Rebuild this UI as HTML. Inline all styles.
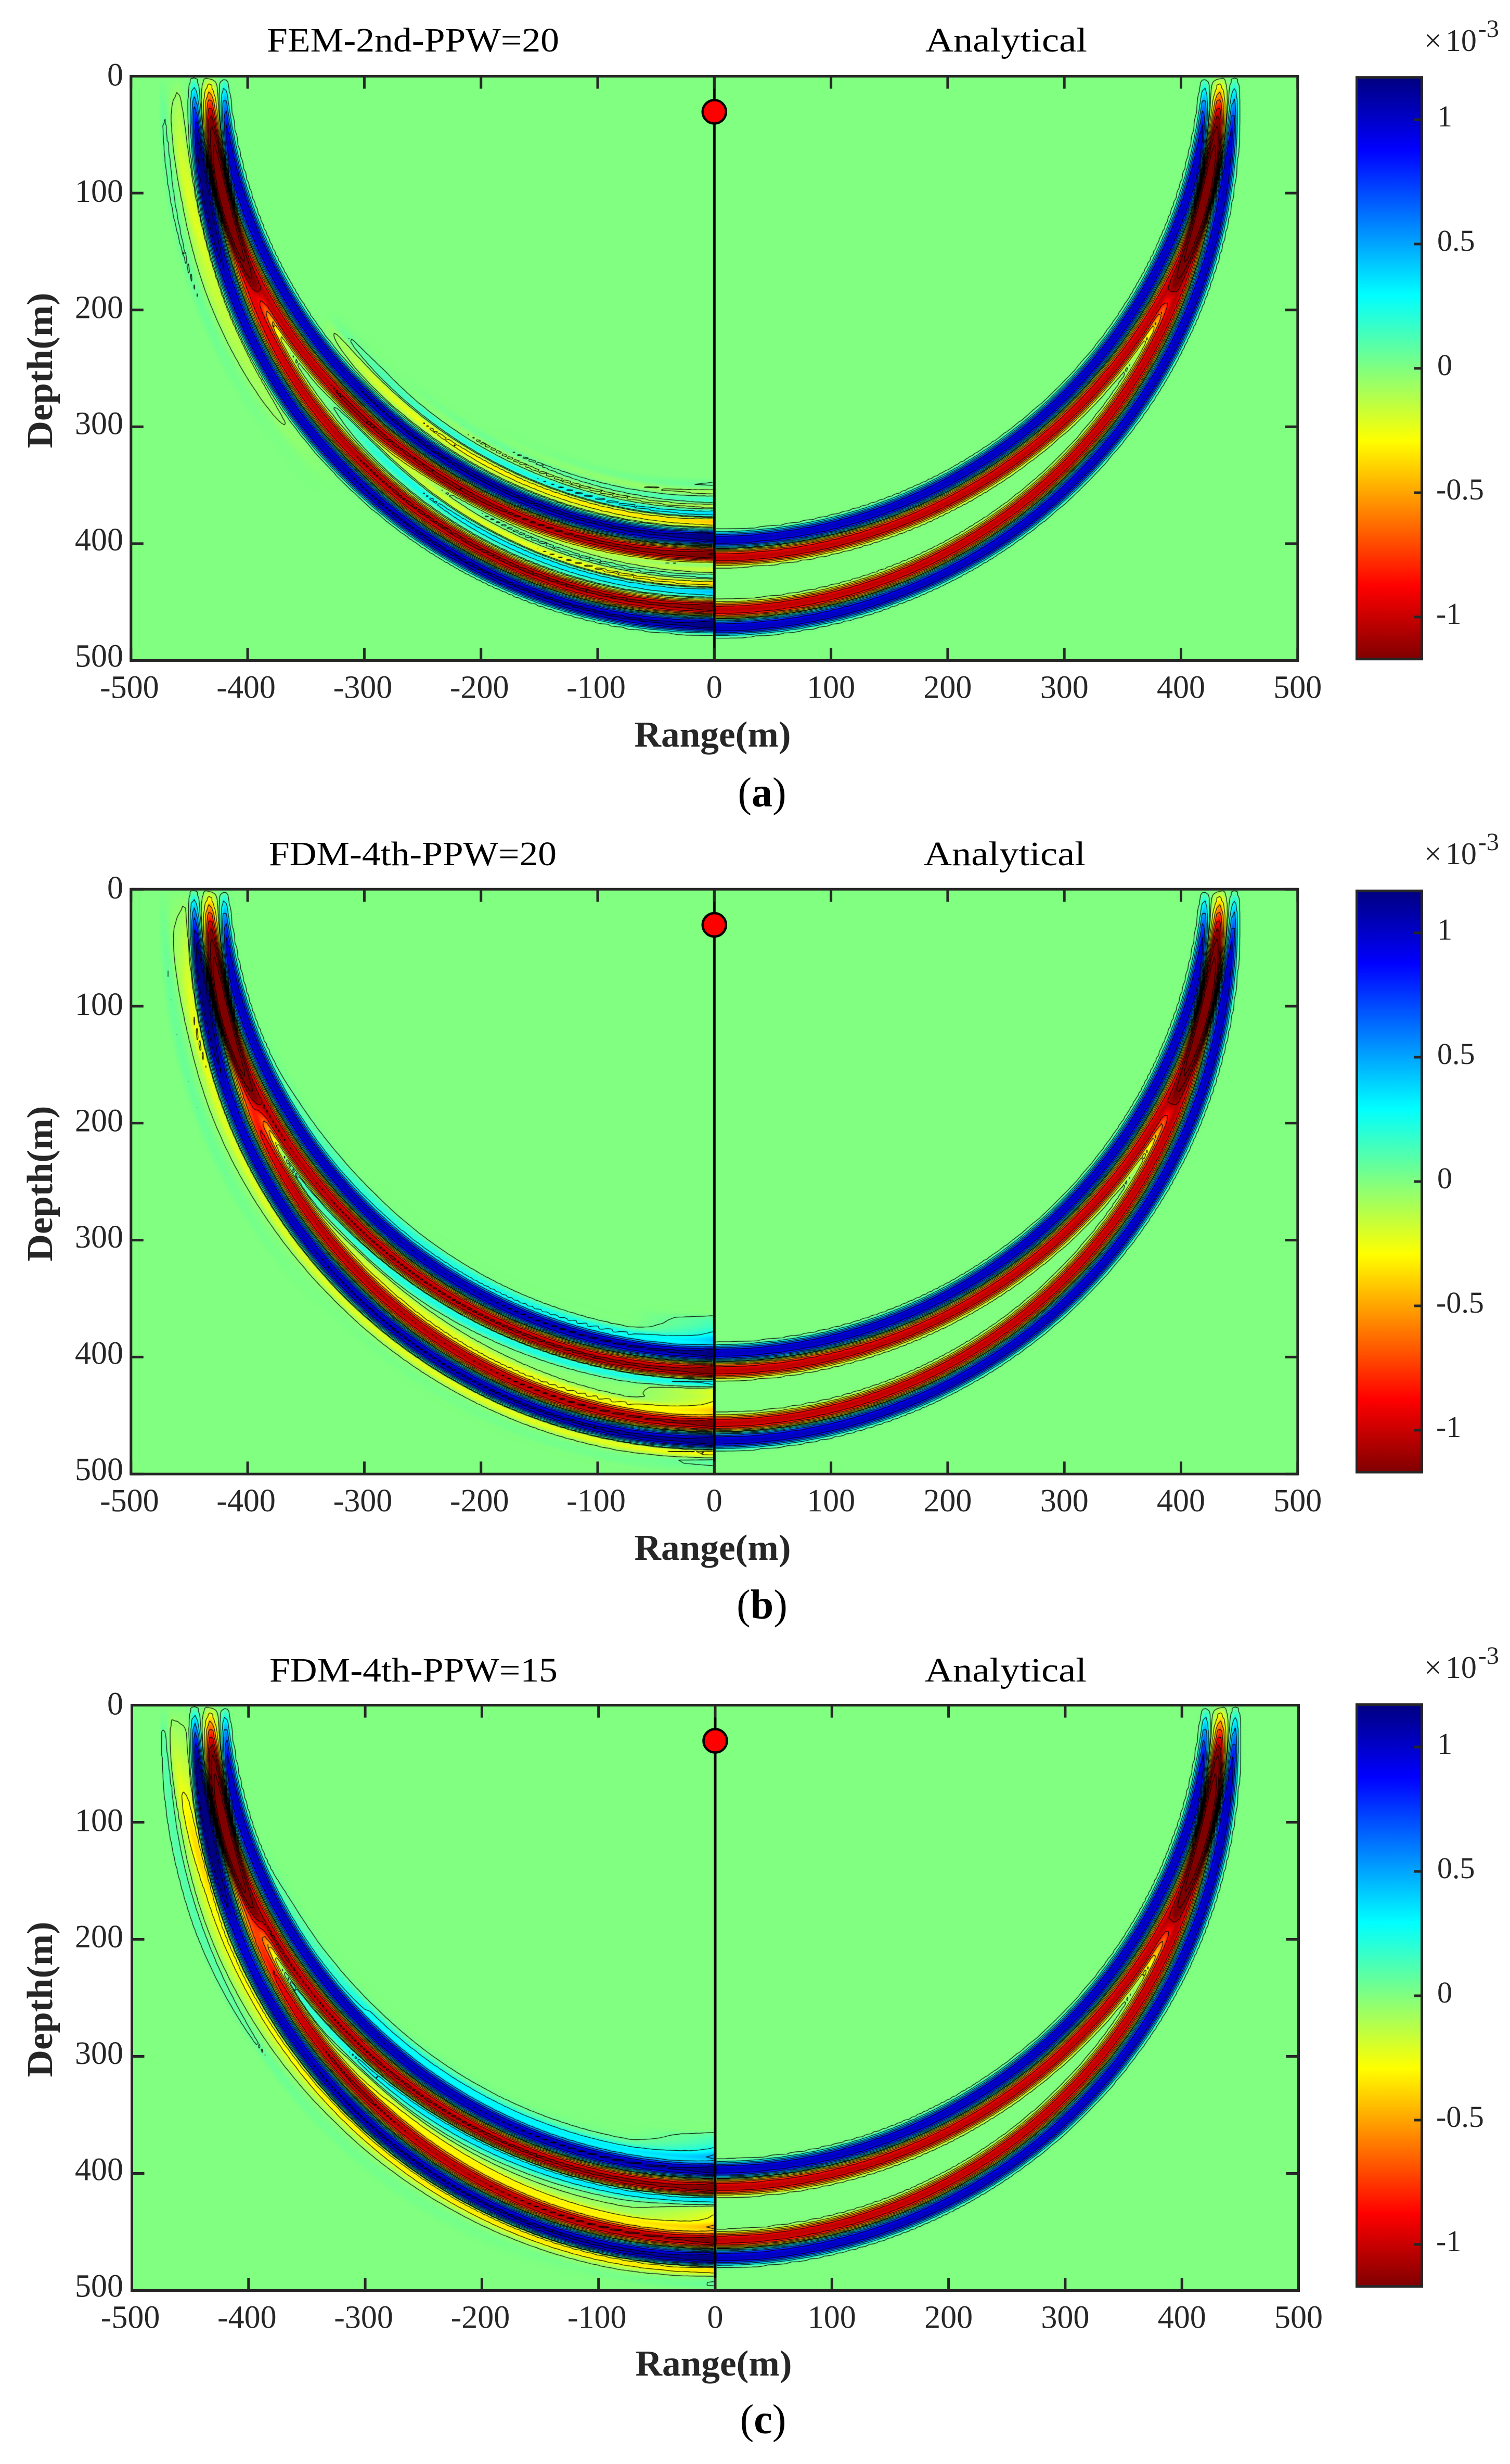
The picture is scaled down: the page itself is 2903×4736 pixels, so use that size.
<!DOCTYPE html>
<html lang="en">
<head>
<meta charset="utf-8">
<title>Wavefield comparison: numerical vs analytical</title>
<style>
html,body{margin:0;padding:0;background:#fff;}
#page{position:relative;width:2903px;height:4736px;overflow:hidden;background:#fff;}
canvas{position:absolute;display:block;}
svg#overlay{position:absolute;left:0;top:0;}
text{font-family:"Liberation Serif",serif;fill:#262626;}
.title{font-size:66px;fill:#000;}
.axis-title{font-size:70px;font-weight:bold;}
.caption{font-size:80px;fill:#000;}
.tick{font-size:62px;}
.cbtick{font-size:58px;}
.exp{font-size:60px;}
.sup{font-size:48px;}
</style>
</head>
<body>
<div id="page">
<canvas id="field-a"></canvas>
<canvas id="field-b"></canvas>
<canvas id="field-c"></canvas>
<svg id="overlay" width="2903" height="4736" viewBox="0 0 2903 4736" xmlns="http://www.w3.org/2000/svg">
<defs>
<linearGradient id="jetbar" x1="0" y1="0" x2="0" y2="1">
<stop offset="0" stop-color="#000080"/><stop offset="0.125" stop-color="#0000ff"/><stop offset="0.375" stop-color="#00ffff"/><stop offset="0.5" stop-color="#80ff80"/><stop offset="0.625" stop-color="#ffff00"/><stop offset="0.875" stop-color="#ff0000"/><stop offset="1" stop-color="#800000"/>
</linearGradient>
</defs>

<text class="title" x="513" y="99" textLength="562" lengthAdjust="spacingAndGlyphs">FEM-2nd-PPW=20</text>
<text class="title" x="1779" y="99" textLength="311" lengthAdjust="spacingAndGlyphs">Analytical</text>
<text class="axis-title" x="1370" y="1435" text-anchor="middle" textLength="301" lengthAdjust="spacingAndGlyphs">Range(m)</text>
<text class="axis-title" transform="translate(100,712) rotate(-90)" text-anchor="middle" textLength="299" lengthAdjust="spacingAndGlyphs">Depth(m)</text>
<text class="caption" x="1465" y="1550" text-anchor="middle">(<tspan font-weight="bold">a</tspan>)</text>
<text class="exp" x="2738" y="98">×<tspan dx="7">10</tspan><tspan class="sup" dx="3" dy="-27">-3</tspan></text>

<text class="title" x="517" y="1663" textLength="553" lengthAdjust="spacingAndGlyphs">FDM-4th-PPW=20</text>
<text class="title" x="1776" y="1663" textLength="311" lengthAdjust="spacingAndGlyphs">Analytical</text>
<text class="axis-title" x="1370" y="2998" text-anchor="middle" textLength="301" lengthAdjust="spacingAndGlyphs">Range(m)</text>
<text class="axis-title" transform="translate(100,2275) rotate(-90)" text-anchor="middle" textLength="299" lengthAdjust="spacingAndGlyphs">Depth(m)</text>
<text class="caption" x="1465" y="3111" text-anchor="middle">(<tspan font-weight="bold">b</tspan>)</text>
<text class="exp" x="2738" y="1661">×<tspan dx="7">10</tspan><tspan class="sup" dx="3" dy="-27">-3</tspan></text>

<text class="title" x="518" y="3232" textLength="554" lengthAdjust="spacingAndGlyphs">FDM-4th-PPW=15</text>
<text class="title" x="1778" y="3232" textLength="311" lengthAdjust="spacingAndGlyphs">Analytical</text>
<text class="axis-title" x="1372" y="4566" text-anchor="middle" textLength="301" lengthAdjust="spacingAndGlyphs">Range(m)</text>
<text class="axis-title" transform="translate(100,3843) rotate(-90)" text-anchor="middle" textLength="299" lengthAdjust="spacingAndGlyphs">Depth(m)</text>
<text class="caption" x="1467" y="4677" text-anchor="middle">(<tspan font-weight="bold">c</tspan>)</text>
<text class="exp" x="2738" y="3225">×<tspan dx="7">10</tspan><tspan class="sup" dx="3" dy="-27">-3</tspan></text>
</svg>
</div>

<script>
// ---- axis data ----
const rangeTicks = [-500,-400,-300,-200,-100,0,100,200,300,400,500];
const depthTicks = [0,100,200,300,400,500];
const colorbarTicks = [1,0.5,0,-0.5,-1];
const colorbarLabels = ['1','0.5','0','-0.5','-1'];
const colorLimit = 1.17;
const contourLevels = [-1.6,-1.3,-1.05,-0.85,-0.65,-0.45,-0.25,-0.05,0.05,0.25,0.45,0.65,0.85,1.05];

// ---- source and wavefront (metres) ----
const sourceDepth = 30;
const wavefrontRadius = 434;

// ---- wavelet read from the analytical half: amplitude (x10^-3) vs. offset from the front (m) ----
const waveletOffsets = [-22,-20,-18,-16,-14,-12,-10,-8,-6,-4,-2,0,2,4,6,8,10,12,14,16,18,20,22];
const waveletAmplitude = [0,0,-0.01,-0.06,-0.30,-0.66,-0.93,-1.03,-0.98,-0.82,-0.48,0,0.48,0.82,0.98,1.03,0.93,0.66,0.30,0.06,0.01,0,0];

// ---- numerical dispersion lobes per propagation angle (deg below horizontal) ----
const angleSamples = [0,20,35,45,60,80,90];
const tailOffsets = [-60,-54,-48,-42,-36,-30,-24,-18,-12,-6,0,6,12,18,24,30,36,42];
const femTail = [
 [0,0,0,0,0,0,0,0,0,0,0,0,0,-.16,-.16,-.02,.07,.02],
 [0,0,0,0,0,0,0,0,0,0,0,0,0,-.16,-.14,-.02,.05,.01],
 [0,0,0,0,0,0,0,0,0,0,0,0,0,-.05,-.05,0,.01,0],
 [0,0,0,0,-.03,-.12,.20,.08,0,0,0,0,0,0,0,0,0,0],
 [0,0,0,-.04,.06,-.22,.30,.10,0,0,0,0,0,0,0,0,0,0],
 [0,-.03,.05,-.10,.08,-.30,.33,.10,0,0,0,0,0,0,0,0,0,0],
 [-.02,-.05,.08,-.15,.10,-.33,.36,.12,0,0,0,0,0,0,0,0,0,0]
];
const femLag = [0,0,0,1,1.5,2,2.5];
const femGain = [1.0,1.0,1.0,1.03,1.05,1.05,1.05];
const fdm20Tail = [
 [0,0,0,0,0,0,0,0,0,0,0,0,0,-.22,-.10,0,.05,.01],
 [0,0,0,0,0,0,0,0,0,0,0,0,0,-.22,-.10,0,.05,.01],
 [0,0,0,0,0,0,-.01,-.08,0,0,0,0,0,-.22,-.06,0,.02,0],
 [0,0,0,0,0,0,-.02,-.18,0,0,0,0,0,-.22,-.04,.01,0,0],
 [0,0,0,0,0,0,-.02,-.22,0,0,0,0,0,-.24,-.03,.02,0,0],
 [0,0,0,0,0,0,-.03,-.25,0,0,0,0,0,-.24,-.02,.03,0,0],
 [0,0,0,0,-.10,-.14,-.24,-.35,0,0,0,0,0,-.28,.06,.03,0,0]
];
const fdm20Lag = [0,0,0,0,0,0,0];
const fdm20Gain = [1.0,1.0,1.01,1.03,1.03,1.05,1.05];
const fdm15Tail = [
 [0,0,0,0,0,0,0,0,0,0,0,0,0,-.28,-.20,-.05,.10,.03],
 [0,0,0,0,0,0,0,0,0,0,0,0,0,-.28,-.20,-.05,.10,.03],
 [0,0,0,0,0,0,-.02,-.12,0,0,0,0,0,-.30,-.15,-.02,.05,0],
 [0,0,0,0,0,0,-.06,-.26,0,0,0,0,0,-.33,-.12,0,.03,0],
 [0,0,0,0,0,-.01,-.08,-.30,0,0,0,0,0,-.35,-.10,.01,.02,0],
 [0,0,0,0,0,-.02,-.10,-.33,0,0,0,0,0,-.35,-.08,.02,0,0],
 [0,0,0,0,-.10,-.15,-.26,-.40,0,0,0,0,0,-.33,-.02,.05,0,0]
];
const fdm15Lag = [0,0,0,0,0,0,0];
const fdm15Gain = [1.0,1.0,1.01,1.03,1.03,1.05,1.05];
const analyticTail = angleSamples.map(function(){return tailOffsets.map(function(){return 0;});});
const analyticLag = [0,0,0,0,0,0,0];
const analyticGain = [1,1,1,1,1,1,1];

// ---- panel frames ----
const panelFrames = [
 {id:'a',x0:1373.3,top:146.5,bottom:1269.5,cbTop:148.7,cbBottom:1266.7,cbZero:708,tail:femTail,lag:femLag,gain:femGain},
 {id:'b',x0:1373.3,top:1709.2,bottom:2833.2,cbTop:1712.3,cbBottom:2829.7,cbZero:2271,tail:fdm20Tail,lag:fdm20Lag,gain:fdm20Gain},
 {id:'c',x0:1375,top:3277.5,bottom:4402.5,cbTop:3276.3,cbBottom:4394.7,cbZero:3836,tail:fdm15Tail,lag:fdm15Lag,gain:fdm15Gain}
];
const rangeScale = 2.243;
const cbLeft = 2608.5, cbRight = 2733.5, cbPerUnit = 478;
const INK = '#262626';
const SVGNS = 'http://www.w3.org/2000/svg';
const overlay = document.getElementById('overlay');

function clamp01(v){return v<0?0:v>1?1:v;}
function jetColor(v){
  var t = (colorLimit - v)/(2*colorLimit);
  t = clamp01(t);
  var r = clamp01(1.5-Math.abs(4*t-3)), g = clamp01(1.5-Math.abs(4*t-2)), b = clamp01(1.5-Math.abs(4*t-1));
  return [Math.round(r*255),Math.round(g*255),Math.round(b*255)];
}
const PALETTE = new Uint32Array(1025);
for (var pi=0;pi<=1024;pi++){
  var pc = jetColor(-colorLimit + 2*colorLimit*pi/1024);
  PALETTE[pi] = (255<<24)|(pc[2]<<16)|(pc[1]<<8)|pc[0];
}

// Catmull-Rom on evenly spaced samples, zero outside the sampled range
function sampleCurve(xs, ys, x){
  var n = xs.length;
  if (x<=xs[0]||x>=xs[n-1]) return 0;
  var h = xs[1]-xs[0];
  var i = Math.floor((x-xs[0])/h);
  var u = (x-xs[i])/h;
  var p0 = ys[Math.max(i-1,0)], p1 = ys[i], p2 = ys[i+1], p3 = ys[Math.min(i+2,n-1)];
  return 0.5*((2*p1)+(-p0+p2)*u+(2*p0-5*p1+4*p2-p3)*u*u+(-p0+3*p1-3*p2+p3)*u*u*u);
}

const S_MIN=-72, S_MAX=54, S_STEP=0.25, S_COUNT=Math.round((S_MAX-S_MIN)/S_STEP)+1;
function buildTable(tail, lag, gain){
  var T = new Float32Array(91*S_COUNT);
  for (var a=0;a<=90;a++){
    var k=0; while(k<angleSamples.length-2 && a>angleSamples[k+1]) k++;
    var f=(a-angleSamples[k])/(angleSamples[k+1]-angleSamples[k]);
    var L=lag[k]*(1-f)+lag[k+1]*f, G=gain[k]*(1-f)+gain[k+1]*f;
    for (var j=0;j<S_COUNT;j++){
      var s=S_MIN+j*S_STEP;
      var t0=sampleCurve(tailOffsets,tail[k],s), t1=sampleCurve(tailOffsets,tail[k+1],s);
      T[a*S_COUNT+j]=G*sampleCurve(waveletOffsets,waveletAmplitude,s+L)+t0*(1-f)+t1*f;
    }
  }
  return T;
}
function waveAt(T,s,dz,ax){
  var j=Math.round((s-S_MIN)/S_STEP);
  var ang=Math.atan2(dz<0?-dz:dz,ax)*57.29578;
  var a=Math.floor(ang); if(a>=90){a=89;}
  var f=ang-a;
  return T[a*S_COUNT+j]*(1-f)+T[(a+1)*S_COUNT+j]*f;
}
function fieldValue(T,x,z,leftSide){
  var ax=x<0?-x:x;
  var d1=z-sourceDepth, d2=z+sourceDepth;
  var s1=Math.sqrt(ax*ax+d1*d1)-wavefrontRadius, s2=Math.sqrt(ax*ax+d2*d2)-wavefrontRadius;
  var v=0;
  if(s1>S_MIN&&s1<S_MAX) v+=waveAt(T,s1,d1,ax);
  if(s2>S_MIN&&s2<S_MAX) v-=waveAt(T,s2,d2,ax);
  if(leftSide) v*=1+0.22*Math.exp(-ax/12);
  return v;
}

function contourHalf(ctx,T,sign,P,W,H,ox,oy,sy){
  var step=5.6;
  var nx=Math.floor(Math.abs(sign<0?(P.x0-ox):(ox+W-P.x0))/step);
  var ny=Math.floor(H/step);
  var grid=new Float32Array((nx+1)*(ny+1));
  for(var i=0;i<=nx;i++)for(var j=0;j<=ny;j++){
    grid[i*(ny+1)+j]=fieldValue(T,sign*(i*step+3)/rangeScale,(j*step)/sy,sign<0);
  }
  function px(i){return P.x0+sign*(i*step+3)-ox;}
  function py(j){return j*step;}
  ctx.beginPath();
  contourLevels.forEach(function(L){
    for(var i=0;i<nx;i++)for(var j=0;j<ny;j++){
      var a=grid[i*(ny+1)+j],b=grid[(i+1)*(ny+1)+j],c=grid[(i+1)*(ny+1)+j+1],d=grid[i*(ny+1)+j+1];
      var pts=[];
      if((a<L)!==(b<L)){var t=(L-a)/(b-a);pts.push(px(i+t),py(j));}
      if((b<L)!==(c<L)){var t=(L-b)/(c-b);pts.push(px(i+1),py(j+t));}
      if((d<L)!==(c<L)){var t=(L-d)/(c-d);pts.push(px(i+t),py(j+1));}
      if((a<L)!==(d<L)){var t=(L-a)/(d-a);pts.push(px(i),py(j+t));}
      for(var q=0;q+3<pts.length;q+=4){ctx.moveTo(pts[q],pts[q+1]);ctx.lineTo(pts[q+2],pts[q+3]);}
    }
  });
  ctx.strokeStyle='#000';
  ctx.lineWidth=1.2;
  ctx.stroke();
}

function drawField(P,TL,TR){
  var ox=Math.round(P.x0-500*rangeScale), oy=Math.round(P.top), W=Math.round(1000*rangeScale), H=Math.round(P.bottom-P.top);
  var cv=document.getElementById('field-'+P.id);
  cv.width=W;cv.height=H;
  cv.style.left=ox+'px';cv.style.top=oy+'px';
  var ctx=cv.getContext('2d');
  var img=ctx.createImageData(W,H);
  var buf=new Uint32Array(img.data.buffer);
  var sy=(P.bottom-P.top)/500;
  var zero=512;
  for(var py=0;py<H;py++){
    var z=py/sy;
    for(var px=0;px<W;px++){
      var x=(px+ox-P.x0)/rangeScale;
      var v=fieldValue(x<0?TL:TR,x,z,x<0);
      var idx=v===0?zero:Math.round((v+colorLimit)/(2*colorLimit)*1024);
      if(idx<0)idx=0;else if(idx>1024)idx=1024;
      buf[py*W+px]=PALETTE[idx];
    }
  }
  ctx.putImageData(img,0,0);
  contourHalf(ctx,TL,-1,P,W,H,ox,oy,sy);
  contourHalf(ctx,TR,1,P,W,H,ox,oy,sy);
}

function makeLine(x1,y1,x2,y2,w,color){
  var el=document.createElementNS(SVGNS,'line');
  el.setAttribute('x1',x1);el.setAttribute('y1',y1);el.setAttribute('x2',x2);el.setAttribute('y2',y2);
  el.setAttribute('stroke',color);el.setAttribute('stroke-width',w);
  overlay.appendChild(el);
  return el;
}
function makeText(x,y,str,cls,anchor){
  var el=document.createElementNS(SVGNS,'text');
  el.setAttribute('x',x);el.setAttribute('y',y);el.setAttribute('class',cls);
  el.setAttribute('text-anchor',anchor);
  el.textContent=str;
  overlay.appendChild(el);
  return el;
}

function drawAxes(P){
  var xOf=function(r){return P.x0+r*rangeScale;};
  var sy=(P.bottom-P.top)/500;
  var yOf=function(d){return P.top+d*sy;};
  var L=xOf(-500),R=xOf(500);

  var axisLine=makeLine(P.x0,P.top,P.x0,P.bottom,5,'#000');
  
  

  var frame=document.createElementNS(SVGNS,'rect');
  frame.setAttribute('x',L);frame.setAttribute('y',P.top);
  frame.setAttribute('width',R-L);frame.setAttribute('height',P.bottom-P.top);
  frame.setAttribute('fill','none');frame.setAttribute('stroke',INK);frame.setAttribute('stroke-width',5);
  
  
  overlay.appendChild(frame);

  rangeTicks.forEach(function(r){
    var b=makeLine(xOf(r),P.bottom,xOf(r),P.bottom-24,5,INK);
    
    
    var t=makeLine(xOf(r),P.top,xOf(r),P.top+24,5,INK);
    
    
    var lab=makeText(xOf(r)-(r<0?3:0),P.bottom+72,String(r),'tick','middle');
    
    
  });
  depthTicks.forEach(function(d){
    var a=makeLine(L,yOf(d),L+24,yOf(d),5,INK);
    
    
    var c=makeLine(R,yOf(d),R-24,yOf(d),5,INK);
    
    
    var lab=makeText(237,yOf(d)+18-d*0.012,String(d),'tick','end');
    
    
  });

  var src=document.createElementNS(SVGNS,'circle');
  src.setAttribute('cx',xOf(0));src.setAttribute('cy',yOf(sourceDepth)+1);src.setAttribute('r',22.5);
  src.setAttribute('fill','#ff0000');src.setAttribute('stroke','#000');src.setAttribute('stroke-width',4.5);
  
  
  overlay.appendChild(src);

  var bar=document.createElementNS(SVGNS,'rect');
  bar.setAttribute('x',cbLeft);bar.setAttribute('y',P.cbTop);
  bar.setAttribute('width',cbRight-cbLeft);bar.setAttribute('height',P.cbBottom-P.cbTop);
  bar.setAttribute('fill','url(#jetbar)');bar.setAttribute('stroke',INK);bar.setAttribute('stroke-width',5);
  
  
  overlay.appendChild(bar);

  colorbarTicks.forEach(function(v,i){
    var y=P.cbZero-v*cbPerUnit;
    var t=makeLine(cbRight,y,cbRight-15,y,5,INK);
    
    
    var lab=makeText(v<0?2761:2763,y+13,colorbarLabels[i],'cbtick','start');
    
    
  });
}

const analyticTable = buildTable(analyticTail,analyticLag,analyticGain);
panelFrames.forEach(function(P){
  drawField(P,buildTable(P.tail,P.lag,P.gain),analyticTable);
  drawAxes(P);
});
</script>
</body>
</html>
